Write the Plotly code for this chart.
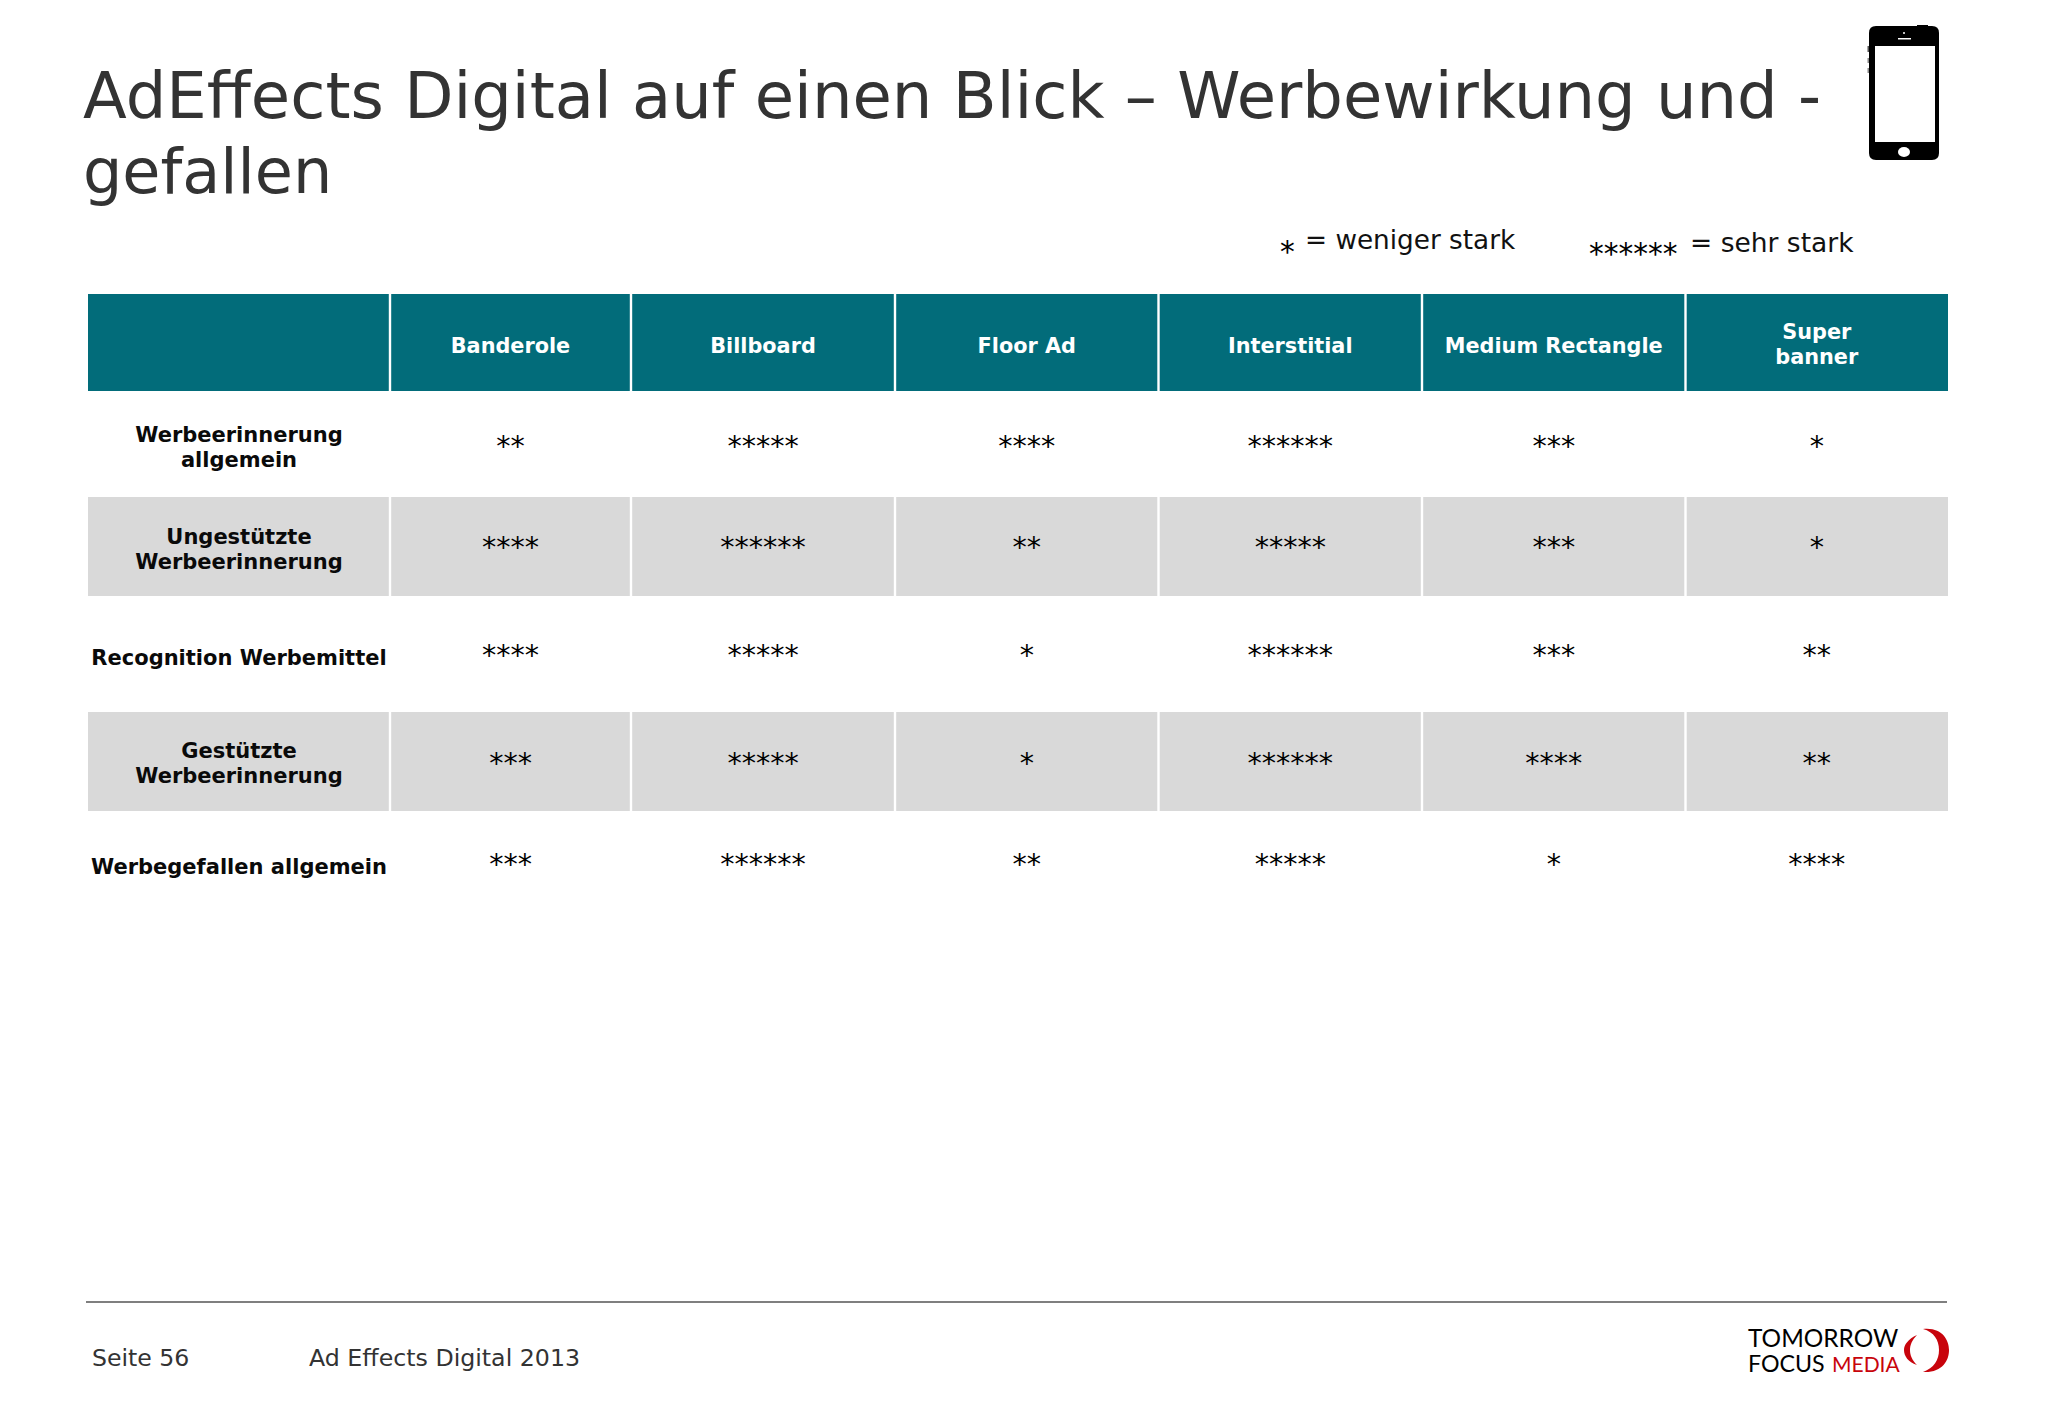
import plotly.graph_objects as go

# table content
columns = ["Banderole", "Billboard", "Floor Ad", "Interstitial", "Medium Rectangle", "Super<br>banner"]
rows = ["Werbeerinnerung<br>allgemein", "Ungestützte<br>Werbeerinnerung", "Recognition Werbemittel",
        "Gestützte<br>Werbeerinnerung", "Werbegefallen allgemein"]

# number of stars per ad format
banderole = [2, 4, 4, 3, 3]
billboard = [5, 6, 5, 5, 6]
floor_ad = [4, 2, 1, 1, 2]
interstitial = [6, 5, 6, 6, 5]
medium_rectangle = [3, 3, 3, 4, 1]
super_banner = [1, 1, 2, 2, 4]
ratings = [banderole, billboard, floor_ad, interstitial, medium_rectangle, super_banner]

# page geometry in pixels
col_edges = [88, 390, 631, 895, 1158.5, 1422, 1685.5, 1948]
header_band = (294, 391)
row_bands = [(391, 497), (497, 596), (596, 712), (712, 811), (811, 925)]
row_label_y = [449.5, 551.5, 659.5, 765.5, 868.5]
star_y = [448.5, 549.5, 657.5, 765.5, 866.5]
header_y = [347.5, 347.5, 347.5, 347.5, 347.5, 346.5]
LINE_GAP = 25
TEAL = "#026C7A"
GREY = "#D9D9D9"
FONT = "DejaVu Sans"
GAP = 1.2

fig = go.Figure()

shapes = []
for c in range(len(col_edges) - 1):
    x0 = col_edges[c] + (GAP if c else 0)
    x1 = col_edges[c + 1] - (GAP if c < len(col_edges) - 2 else 0)
    shapes.append(dict(type="rect", x0=x0, x1=x1, y0=header_band[0], y1=header_band[1],
                       fillcolor=TEAL, line_width=0, layer="below"))
    for r in (1, 3):
        shapes.append(dict(type="rect", x0=x0, x1=x1, y0=row_bands[r][0], y1=row_bands[r][1],
                           fillcolor=GREY, line_width=0, layer="below"))

centers = [(col_edges[i] + col_edges[i + 1]) / 2 for i in range(len(col_edges) - 1)]


def split_lines(labels, xs, ys):
    # two-line labels get one text point per line, the source has tighter leading than plotly
    out_x, out_y, out_t = [], [], []
    for t, x, y in zip(labels, xs, ys):
        parts = t.split("<br>")
        for i, p in enumerate(parts):
            out_x.append(x)
            out_y.append(y + (i - (len(parts) - 1) / 2) * LINE_GAP)
            out_t.append(p)
    return out_x, out_y, out_t


# header labels
hx, hy, ht = split_lines(columns, centers[1:], header_y)
fig.add_trace(go.Scatter(x=hx, y=hy, mode="text", text=ht,
                         textfont=dict(family=FONT, size=20.8, color="white", weight=700), textposition="middle center"))
# row labels
rx, ry, rt = split_lines(rows, [centers[0]] * len(rows), row_label_y)
fig.add_trace(go.Scatter(x=rx, y=ry, mode="text", text=rt,
                         textfont=dict(family=FONT, size=21, color="#0a0a0a", weight=700), textposition="middle center"))
# stars
for c, series in enumerate(ratings):
    fig.add_trace(go.Scatter(x=[centers[c + 1]] * len(series), y=star_y, mode="text", text=["*" * n for n in series],
                             textfont=dict(family=FONT, size=28.5, color="#000000"), textposition="middle center"))

# phone icon
shapes += [
    dict(type="path", path="M1876,26 L1932,26 Q1939,26 1939,33 L1939,153 Q1939,160 1932,160 L1876,160 Q1869,160 1869,153 L1869,33 Q1869,26 1876,26 Z",
         fillcolor="black", line_width=0),
    dict(type="rect", x0=1917, x1=1928, y0=25, y1=27, fillcolor="black", line_width=0),
    dict(type="rect", x0=1867.5, x1=1869, y0=46, y1=52, fillcolor="#555555", line_width=0),
    dict(type="rect", x0=1867.5, x1=1869, y0=58, y1=63, fillcolor="#888888", line_width=0),
    dict(type="rect", x0=1867.5, x1=1869, y0=68, y1=73, fillcolor="#888888", line_width=0),
    dict(type="rect", x0=1875, x1=1935, y0=46, y1=142, fillcolor="white", line_width=0),
    dict(type="circle", x0=1898, x1=1910, y0=147, y1=157, fillcolor="white", line_width=0),
    dict(type="rect", x0=1898, x1=1911, y0=38, y1=39.5, fillcolor="white", line_width=0),
    dict(type="circle", x0=1903, x1=1905, y0=32, y1=34, fillcolor="white", line_width=0),
]
# footer rule and logo crescents
shapes += [
    dict(type="line", x0=86, x1=1947, y0=1302, y1=1302, line=dict(color="#555555", width=1.5)),
    dict(type="path", path="M1923,1329 C1942,1327 1949,1340 1949,1350 C1949,1361 1942,1373 1923,1372 C1934,1368 1939,1360 1939,1350 C1939,1340 1934,1332 1923,1329 Z",
         fillcolor="#C8040C", line_width=0),
    dict(type="path", path="M1917,1335 C1908,1339 1904,1345 1904,1350 C1904,1356 1908,1362 1917,1365 C1912,1360 1910,1355 1910,1350 C1910,1345 1912,1340 1917,1335 Z",
         fillcolor="#C8040C", line_width=0),
]


def label(x, y, text, size, color="#111111", xanchor="left", family=FONT):
    return dict(x=x, y=y, text=text, showarrow=False, xanchor=xanchor, yanchor="middle", align="left",
                xref="x", yref="y", font=dict(family=family, size=size, color=color))


annotations = [
    label(80.5, 96, "AdEffects Digital auf einen Blick – Werbewirkung und -", 64, "#333333"),
    label(80.5, 171, "gefallen", 62, "#333333"),
    label(1278, 252, "*", 29.5, "#000000"),
    label(1303, 239.5, "= weniger stark", 26.3),
    label(1587, 254, "******", 29.5, "#000000"),
    label(1688, 242, "= sehr stark", 26.5),
    label(90, 1358, "Seite 56", 23.6, "#333333"),
    label(307, 1358, "Ad Effects Digital 2013", 23.7, "#333333"),
    label(1746, 1337, "TOMORROW", 24.4, "black", family="Lato"),
    label(1746, 1363, "FOCUS", 23.2, "black", family="Lato"),
    label(1830, 1363, "MEDIA", 21, "#C8040C", family="Lato"),
]

fig.update_layout(
    width=2048, height=1418, margin=dict(l=0, r=0, t=0, b=0),
    paper_bgcolor="white", plot_bgcolor="white", showlegend=False,
    xaxis=dict(range=[0, 2048], visible=False, fixedrange=True),
    yaxis=dict(range=[1418, 0], visible=False, fixedrange=True),
    shapes=shapes, annotations=annotations,
)

fig.write_html("out.html", config={"displayModeBar": False}, post_script="document.body.style.margin='0';")
